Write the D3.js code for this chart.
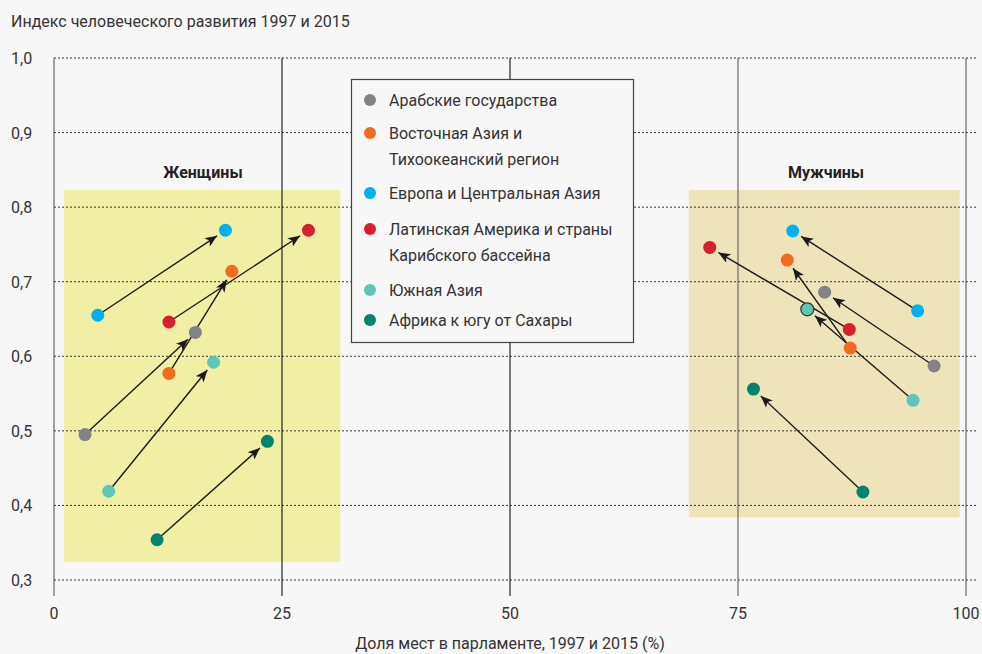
<!DOCTYPE html>
<html>
<head>
<meta charset="utf-8">
<script src="https://cdn.jsdelivr.net/npm/d3@7"></script>
<style>
  body { margin: 0; background: #f7f7f7; }
  svg { display: block; font-family: "Liberation Sans Narrow", "Roboto", sans-serif; }
</style>
</head>
<body>
<script>
var regions = ["Арабские государства", "Восточная Азия и|Тихоокеанский регион", "Европа и Центральная Азия",
  "Латинская Америка и страны|Карибского бассейна", "Южная Азия", "Африка к югу от Сахары"];
var colors = ["#838387", "#f26b21", "#00b0ef", "#d6202c", "#5ec6b7", "#00846f"];

// women: share of seats (%) and HDI, 1997 -> 2015
var womenShare1997 = [3.4, 12.6, 4.8, 12.6, 6.0, 11.3];
var womenShare2015 = [15.5, 19.5, 18.8, 27.9, 17.5, 23.4];
var womenHdi1997 = [0.495, 0.577, 0.655, 0.646, 0.419, 0.354];
var womenHdi2015 = [0.632, 0.714, 0.769, 0.769, 0.592, 0.486];

// men
var menShare1997 = [96.5, 87.3, 94.7, 87.2, 94.2, 88.7];
var menShare2015 = [84.5, 80.4, 81.0, 71.9, 82.6, 76.7];
var menHdi1997 = [0.587, 0.611, 0.661, 0.636, 0.541, 0.418];
var menHdi2015 = [0.686, 0.729, 0.768, 0.746, 0.663, 0.556];

var xTicks = [0, 25, 50, 75, 100];
var yTicks = [0.3, 0.4, 0.5, 0.6, 0.7, 0.8, 0.9, 1.0];

var width = 982, height = 654;
var fs = 16;

var x = d3.scaleLinear().domain([0, 100]).range([54, 966]);
var y = d3.scaleLinear().domain([0.3, 1.0]).range([580, 58]);

var svg = d3.select("body").append("svg")
    .attr("width", width)
    .attr("height", height);

svg.append("defs").append("marker")
    .attr("id", "arrow")
    .attr("viewBox", "0 0 12 10")
    .attr("refX", 12).attr("refY", 5)
    .attr("markerWidth", 13).attr("markerHeight", 10)
    .attr("markerUnits", "userSpaceOnUse")
    .attr("orient", "auto")
  .append("path")
    .attr("d", "M0,0 L12,5 L0,10 L3,5 Z")
    .attr("fill", "#1a1a1a");

// shaded panels
svg.append("rect")
    .attr("x", x(1.1)).attr("y", y(0.823))
    .attr("width", x(31.4) - x(1.1)).attr("height", y(0.324) - y(0.823))
    .attr("fill", "#f0efa5");
svg.append("rect")
    .attr("x", x(69.6)).attr("y", y(0.823))
    .attr("width", x(99.3) - x(69.6)).attr("height", y(0.384) - y(0.823))
    .attr("fill", "#efe4b9");

// horizontal dotted grid
svg.append("g").selectAll("line")
    .data(yTicks).enter().append("line")
    .attr("x1", x(0)).attr("x2", 976)
    .attr("y1", function(d) { return y(d); })
    .attr("y2", function(d) { return y(d); })
    .attr("stroke", "#333").attr("stroke-width", 1)
    .attr("stroke-dasharray", "2,2");

// vertical lines
svg.append("g").selectAll("line")
    .data(xTicks).enter().append("line")
    .attr("x1", function(d) { return x(d); })
    .attr("x2", function(d) { return x(d); })
    .attr("y1", y(1.0)).attr("y2", 596)
    .attr("stroke", function(d, i) { return i == 2 || i == 1 ? "#222" : "#666"; })
    .attr("stroke-width", 1.2);

// tick labels
svg.append("g").selectAll("text")
    .data(yTicks).enter().append("text")
    .attr("x", 11)
    .attr("y", function(d) { return y(d) + 6; })
    .attr("font-size", fs).attr("fill", "#333")
    .text(function(d) { return d3.format(".1f")(d).replace(".", ","); });

svg.append("g").selectAll("text")
    .data(xTicks).enter().append("text")
    .attr("x", function(d) { return x(d); })
    .attr("y", 619)
    .attr("text-anchor", "middle")
    .attr("font-size", fs).attr("fill", "#333")
    .text(function(d) { return d; });

svg.append("text")
    .attr("x", 11).attr("y", 27)
    .attr("font-size", fs).attr("fill", "#333")
    .text("Индекс человеческого развития 1997 и 2015");

svg.append("text")
    .attr("x", x(50)).attr("y", 649)
    .attr("text-anchor", "middle")
    .attr("font-size", fs).attr("fill", "#333")
    .text("Доля мест в парламенте, 1997 и 2015 (%)");

svg.append("text")
    .attr("x", 203).attr("y", 178)
    .attr("text-anchor", "middle")
    .attr("font-size", fs).attr("font-weight", "bold").attr("fill", "#222")
    .text("Женщины");
svg.append("text")
    .attr("x", 826).attr("y", 178)
    .attr("text-anchor", "middle")
    .attr("font-size", fs).attr("font-weight", "bold").attr("fill", "#222")
    .text("Мужчины");

function drawGroup(s1, s2, h1, h2, outlined) {
    var g = svg.append("g");
    var rows = regions.map(function(r, i) {
        return { x1: x(s1[i]), y1: y(h1[i]), x2: x(s2[i]), y2: y(h2[i]), i: i };
    });
    g.selectAll("line")
        .data(rows).enter().append("line")
        .attr("x1", function(d) { return d.x1; })
        .attr("y1", function(d) { return d.y1; })
        .attr("x2", function(d) {
            var len = Math.hypot(d.x2 - d.x1, d.y2 - d.y1);
            return d.x2 - (d.x2 - d.x1) * 10 / len;
        })
        .attr("y2", function(d) {
            var len = Math.hypot(d.x2 - d.x1, d.y2 - d.y1);
            return d.y2 - (d.y2 - d.y1) * 10 / len;
        })
        .attr("stroke", "#1a1a1a").attr("stroke-width", 1.4)
        .attr("marker-end", "url(#arrow)");
    g.selectAll("circle.start")
        .data(rows).enter().append("circle")
        .attr("class", "start")
        .attr("cx", function(d) { return d.x1; })
        .attr("cy", function(d) { return d.y1; })
        .attr("r", 6.5)
        .attr("fill", function(d) { return colors[d.i]; });
    g.selectAll("circle.end")
        .data(rows).enter().append("circle")
        .attr("class", "end")
        .attr("cx", function(d) { return d.x2; })
        .attr("cy", function(d) { return d.y2; })
        .attr("r", 6.5)
        .attr("fill", function(d) { return colors[d.i]; })
        .attr("stroke", function(d) { return d.i === outlined ? "#333" : "none"; })
        .attr("stroke-width", 1.2);
}

drawGroup(womenShare1997, womenShare2015, womenHdi1997, womenHdi2015, -1);
drawGroup(menShare1997, menShare2015, menHdi1997, menHdi2015, 4);

// legend
var legend = svg.append("g");
legend.append("rect")
    .attr("x", 351.5).attr("y", 79.5)
    .attr("width", 282).attr("height", 263)
    .attr("fill", "#f7f7f7").attr("stroke", "#444").attr("stroke-width", 1.2);

var rowY = [100, 133, 193, 229, 290, 320];
regions.forEach(function(r, i) {
    legend.append("circle")
        .attr("cx", 370).attr("cy", rowY[i])
        .attr("r", 6)
        .attr("fill", colors[i]);
    r.split("|").forEach(function(line, j) {
        legend.append("text")
            .attr("x", 389).attr("y", rowY[i] + 6 + j * 26)
            .attr("font-size", fs).attr("fill", "#333")
            .text(line);
    });
});
</script>
</body>
</html>
